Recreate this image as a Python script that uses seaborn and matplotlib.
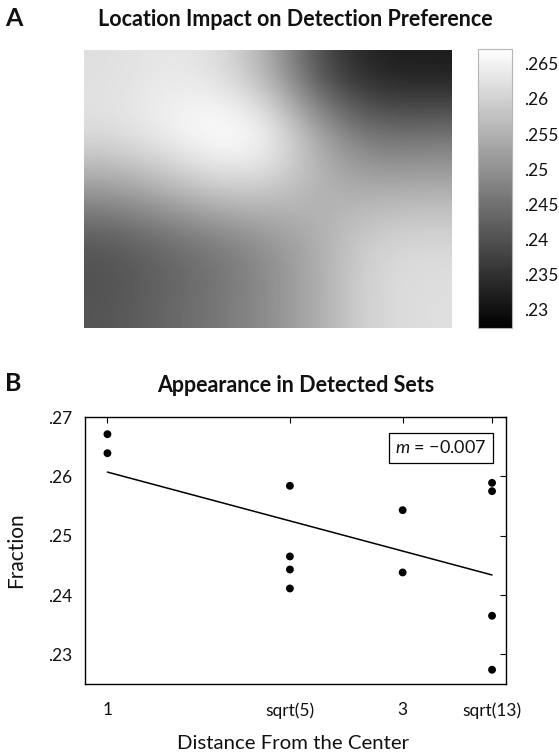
import numpy as np
import pandas as pd
import matplotlib
matplotlib.use("Agg")
import matplotlib.pyplot as plt
import seaborn as sns

# ---------------- data ----------------
# Panel A: smooth location map (5 rows x 7 columns)
heat_row0 = [0.2620, 0.2635, 0.2625, 0.2548, 0.2383, 0.2320, 0.2316]
heat_row1 = [0.2628, 0.2655, 0.2690, 0.2685, 0.2538, 0.2445, 0.2455]
heat_row2 = [0.2515, 0.2552, 0.2595, 0.2592, 0.2552, 0.2542, 0.2548]
heat_row3 = [0.2396, 0.2425, 0.2448, 0.2490, 0.2545, 0.2610, 0.2616]
heat_row4 = [0.2405, 0.2430, 0.2458, 0.2492, 0.2545, 0.2610, 0.2620]
cbar_ticks = [0.23, 0.235, 0.24, 0.245, 0.25, 0.255, 0.26, 0.265]
cbar_labels = [".23", ".235", ".24", ".245", ".25", ".255", ".26", ".265"]

# Panel B: fraction vs distance from the center
distance = [1, 1,
            np.sqrt(5), np.sqrt(5), np.sqrt(5), np.sqrt(5),
            3, 3,
            np.sqrt(13), np.sqrt(13), np.sqrt(13), np.sqrt(13)]
fraction = [0.2671, 0.2639,
            0.2584, 0.2465, 0.2443, 0.2411,
            0.2543, 0.2438,
            0.2589, 0.2575, 0.2365, 0.2274]
x_ticks = [1, np.sqrt(5), 3, np.sqrt(13)]
x_ticklabels = ["1", "sqrt(5)", "3", "sqrt(13)"]
y_ticks = [0.23, 0.24, 0.25, 0.26, 0.27]
y_ticklabels = [".23", ".24", ".25", ".26", ".27"]
slope_text = "$m$ = \u22120.007"

# ---------------- style ----------------
sns.set_theme(style="white")
FONT = "Lato"
plt.rcParams["font.family"] = [FONT, "DejaVu Sans"]
plt.rcParams["mathtext.fontset"] = "custom"
plt.rcParams["mathtext.it"] = FONT + ":italic"
plt.rcParams["mathtext.rm"] = FONT

W, H = 559, 753
fig = plt.figure(figsize=(W / 100, H / 100), dpi=100)
fig.patch.set_facecolor("white")

def rect(l, t, r, b):
    return [l / W, 1 - b / H, (r - l) / W, (b - t) / H]

# ---------------- panel A ----------------
axA = fig.add_axes(rect(84, 50, 452, 328))
grid = np.array([heat_row0, heat_row1, heat_row2, heat_row3, heat_row4])
vmin, vmax = min(fraction), max(fraction)
im = axA.imshow(grid, cmap="gray", vmin=vmin, vmax=vmax,
                interpolation="bicubic", aspect="auto")
axA.set_xticks([])
axA.set_yticks([])
for s in axA.spines.values():
    s.set_visible(False)

cax = fig.add_axes(rect(478, 49, 512, 328))
cb = fig.colorbar(im, cax=cax, ticks=cbar_ticks)
cb.set_ticklabels(cbar_labels)
cb.outline.set_edgecolor("#b5b5b5")
cb.outline.set_linewidth(0.8)
cax.tick_params(axis="y", direction="in", left=True, right=True, length=2.5,
                width=0.8, color="#555555", labelsize=12.5, pad=8.5,
                labelcolor="#111111")

fig.text(295.5 / W, 1 - 26.5 / H, "Location Impact on Detection Preference",
         ha="center", va="baseline", fontsize=15.5, fontweight="bold",
         color="#111111")
fig.text(5 / W, 1 - 26 / H, "A", ha="left", va="baseline", fontsize=18,
         fontweight="bold", color="#111111")

# ---------------- panel B ----------------
axB = fig.add_axes(rect(85, 417, 506, 684))
df = pd.DataFrame({"distance": distance, "fraction": fraction})
sns.regplot(data=df, x="distance", y="fraction", ax=axB, scatter=False,
            ci=None, color="black", line_kws={"linewidth": 1.1})
sns.scatterplot(data=df, x="distance", y="fraction", ax=axB, color="black",
                s=32, edgecolor="none", zorder=3)
axB.set_xlim(0.848, 3.70)
axB.set_ylim(0.225, 0.27)
axB.set_xticks(x_ticks)
axB.set_xticklabels(x_ticklabels)
axB.set_yticks(y_ticks)
axB.set_yticklabels(y_ticklabels)
axB.tick_params(axis="both", direction="in", top=True, right=True, length=4,
                width=0.8, color="black", labelsize=12.5, labelcolor="#111111")
axB.tick_params(axis="y", pad=9)
axB.tick_params(axis="x", pad=13)
for s in axB.spines.values():
    s.set_visible(True)
    s.set_color("black")
    s.set_linewidth(1.0)
axB.set_xlabel("")
axB.set_ylabel("")

axB.text(0.845, 0.885, slope_text, transform=axB.transAxes, ha="center",
         va="center", fontsize=13, color="#111111",
         bbox=dict(boxstyle="square,pad=0.35", facecolor="white",
                   edgecolor="black", linewidth=0.9))

fig.text(296 / W, 1 - 391.5 / H, "Appearance in Detected Sets",
         ha="center", va="baseline", fontsize=15.5, fontweight="bold",
         color="#111111")
fig.text(5 / W, 1 - 391 / H, "B", ha="left", va="baseline", fontsize=18,
         fontweight="bold", color="#111111")
fig.text(16 / W, 1 - 550 / H, "Fraction", rotation=90, ha="center",
         va="center", fontsize=15, color="#111111")
fig.text(293 / W, 1 - 749 / H, "Distance From the Center", ha="center",
         va="baseline", fontsize=14.7, color="#111111")

fig.savefig("out.png", dpi=100, facecolor="white")
